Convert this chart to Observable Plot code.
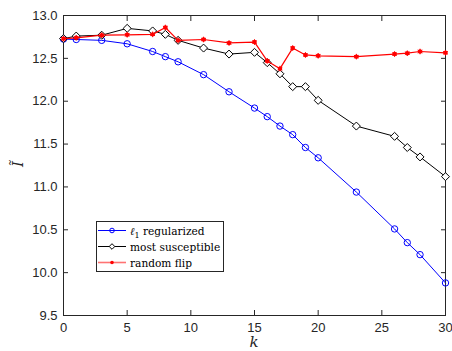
<!DOCTYPE html>
<html>
<head>
<meta charset="utf-8">
<script src="https://cdn.jsdelivr.net/npm/d3@7"></script>
<script src="https://cdn.jsdelivr.net/npm/@observablehq/plot@0.6"></script>
<style>
  html, body { margin: 0; padding: 0; background: #fff; }
  #wrap { position: relative; width: 452px; height: 351px; }
  #legend { position: absolute; left: 96px; top: 221px; }
  #legend text { font-family: "DejaVu Serif", serif; font-size: 10.6px; fill: #000; }
  .ttl { font-family: "DejaVu Serif", serif; font-style: italic; font-size: 15px; fill: #262626; }
</style>
</head>
<body>
<div id="wrap"><div id="chart"></div><svg id="legend" width="128" height="51"></svg></div>
<script>
const kValues = [0, 1, 3, 5, 7, 8, 9, 11, 13, 15, 16, 17, 18, 19, 20, 23, 26, 27, 28, 30];
const l1Regularized = [12.725, 12.72, 12.71, 12.67, 12.58, 12.52, 12.46, 12.31, 12.11, 11.92, 11.82, 11.71, 11.61, 11.46, 11.34, 10.94, 10.51, 10.35, 10.21, 9.88];
const mostSusceptible = [12.73, 12.76, 12.77, 12.85, 12.82, 12.78, 12.71, 12.62, 12.55, 12.57, 12.45, 12.32, 12.17, 12.17, 12.01, 11.71, 11.59, 11.46, 11.35, 11.12];
const randomFlip = [12.73, 12.74, 12.77, 12.775, 12.78, 12.86, 12.71, 12.72, 12.68, 12.69, 12.47, 12.38, 12.62, 12.54, 12.53, 12.52, 12.55, 12.56, 12.58, 12.565];
const xTicks = [0, 5, 10, 15, 20, 25, 30];
const yTicks = [9.5, 10, 10.5, 11, 11.5, 12, 12.5, 13];
const seriesNames = [["\u2113", "1", " regularized"], ["most susceptible"], ["random flip"]];

const rows = (vals) => kValues.map((k, i) => ({k, v: vals[i]}));
const blue = rows(l1Regularized), black = rows(mostSusceptible), red = rows(randomFlip);

const axisFont = "'Liberation Sans', Arial, sans-serif";
const chart = Plot.plot({
  width: 452, height: 351,
  marginLeft: 63, marginRight: 7, marginTop: 15, marginBottom: 36,
  style: {fontFamily: axisFont, fontSize: "13px", color: "#262626", background: "white"},
  x: {domain: [0, 30], ticks: xTicks},
  y: {domain: [9.5, 13], ticks: yTicks},
  marks: [
    Plot.axisX({anchor: "bottom", ticks: xTicks, tickSize: -5, tickPadding: 12, label: null, fontSize: 13, stroke: "#262626"}),
    Plot.axisX({anchor: "top", ticks: xTicks, tickSize: -5, tickFormat: () => "", label: null, stroke: "#262626"}),
    Plot.axisY({anchor: "left", ticks: yTicks, tickSize: -5, tickPadding: 11, label: null, fontSize: 13, stroke: "#262626"}),
    Plot.axisY({anchor: "right", ticks: yTicks, tickSize: -5, tickFormat: () => "", label: null, stroke: "#262626"}),
    Plot.frame({stroke: "#262626"}),
    Plot.line(blue, {x: "k", y: "v", stroke: "#0000ff", strokeWidth: 1}),
    Plot.dot(blue, {x: "k", y: "v", stroke: "#0000ff", r: 3.2, strokeWidth: 1, fill: "none"}),
    Plot.line(black, {x: "k", y: "v", stroke: "#000", strokeWidth: 1}),
    Plot.dot(black, {x: "k", y: "v", symbol: "diamond2", stroke: "#000", r: 3.6, strokeWidth: 1, fill: "white"}),
    Plot.line(red, {x: "k", y: "v", stroke: "#ff0000", strokeWidth: 1.2}),
    Plot.dot(red, {x: "k", y: "v", fill: "#ff0000", r: 2.2, stroke: "none"}),
    Plot.dot(red, {x: "k", y: "v", symbol: "asterisk", stroke: "#ff0000", r: 2.6, strokeWidth: 1})
  ]
});
document.getElementById("chart").appendChild(chart);

// axis titles
const svg = d3.select(chart);
svg.append("text").attr("class", "ttl").attr("x", 254).attr("y", 347).attr("text-anchor", "middle").text("k");
svg.append("text").attr("class", "ttl").attr("transform", "translate(23,164) rotate(-90)").attr("text-anchor", "middle").text("\u0128");

// legend
const lg = d3.select("#legend");
lg.append("rect").attr("x", 0.5).attr("y", 0.5).attr("width", 127).attr("height", 50).attr("fill", "white").attr("stroke", "#262626");
const colors = ["#0000ff", "#000", "#ff0000"];
seriesNames.forEach((parts, i) => {
  const y = 9.5 + i * 16;
  lg.append("line").attr("x1", 2).attr("x2", 30).attr("y1", y).attr("y2", y).attr("stroke", colors[i]).attr("stroke-width", i === 2 ? 1.6 : 1).attr("stroke-opacity", i === 2 ? 0.55 : 1);
  if (i === 0) lg.append("circle").attr("cx", 16).attr("cy", y).attr("r", 2.3).attr("fill", "none").attr("stroke", colors[i]);
  if (i === 1) lg.append("path").attr("d", `M16,${y-2.8}L18.8,${y}L16,${y+2.8}L13.2,${y}Z`).attr("fill", "white").attr("stroke", colors[i]);
  if (i === 2) lg.append("circle").attr("cx", 16).attr("cy", y).attr("r", 1.8).attr("fill", colors[i]);
  const t = lg.append("text").attr("x", 34).attr("y", y + 4);
  if (parts.length === 3) {
    t.append("tspan").attr("font-style", "italic").text(parts[0]);
    t.append("tspan").attr("dy", 3).attr("font-size", "8px").text(parts[1]);
    t.append("tspan").attr("dy", -3).text(parts[2]);
  } else {
    t.text(parts[0]);
  }
});
</script>
</body>
</html>
